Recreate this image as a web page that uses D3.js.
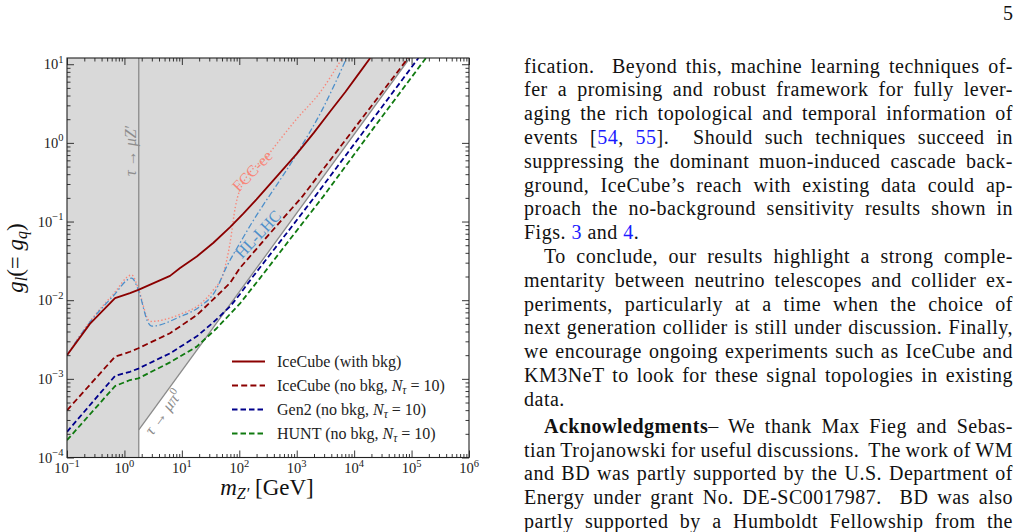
<!DOCTYPE html>
<html>
<head>
<meta charset="utf-8">
<script src="https://cdn.jsdelivr.net/npm/d3@7"></script>
<style>
  body { margin: 0; background: #fff; }
  svg text { font-family: "Liberation Serif", "Times New Roman", serif; }
</style>
</head>
<body>
<script>
// ---- data (m in GeV, coupling g) ----
const X_EXPS = [-1, 0, 1, 2, 3, 4, 5, 6];
const Y_EXPS = [-4, -3, -2, -1, 0, 1];
const M_TAU = 1.777;
const piBoundM = [1.777, 9.3e4];
const piBoundG = [2.25e-4, 12];

const iceBkgM = [0.1, 0.25, 0.686, 1.25, 1.746, 6.22, 9.31, 18.2, 35.5, 69.2, 117.5, 199.5, 446.7, 1000, 1995, 3819, 7079, 12590, 19060];
const iceBkgG = [2.0e-3, 5.0e-3, 0.0106, 0.0123, 0.0135, 0.0204, 0.0257, 0.0359, 0.0537, 0.0851, 0.126, 0.191, 0.372, 0.724, 1.35, 2.51, 4.47, 7.94, 12.0];

const iceNoBkgM = [0.1, 0.686, 1.25, 1.746, 6.22, 18.2, 35.5, 69.2, 102.8, 316, 1259, 3548, 10470, 87100];
const iceNoBkgG = [3.98e-4, 1.91e-3, 2.21e-3, 2.45e-3, 3.80e-3, 6.46e-3, 0.0103, 0.0166, 0.0257, 0.0661, 0.209, 0.562, 1.585, 12.0];

const gen2M = [0.1, 0.686, 1.25, 1.746, 6.22, 18.2, 35.5, 69.2, 103.3, 165, 589, 2089, 15850, 131800];
const gen2G = [2.12e-4, 1.09e-3, 1.23e-3, 1.35e-3, 2.11e-3, 3.47e-3, 5.25e-3, 8.32e-3, 0.0120, 0.0191, 0.0631, 0.209, 1.51, 12.0];

const huntM = [0.1, 0.686, 1.25, 1.746, 6.22, 18.2, 40.5, 103.3, 230, 813, 2911, 22390, 177800];
const huntG = [1.66e-4, 8.09e-4, 9.66e-4, 1.014e-3, 1.62e-3, 2.57e-3, 4.40e-3, 9.12e-3, 0.0191, 0.0631, 0.209, 1.585, 12.0];

const hlM = [0.1, 0.251, 0.631, 1.34, 1.746, 2.61, 2.99, 9.31, 20.7, 37.8, 60.5, 103.3, 154.2, 1000, 2818, 7400];
const hlG = [2.0e-3, 5.25e-3, 0.0112, 0.0191, 0.0135, 5.13e-3, 4.68e-3, 6.17e-3, 8.32e-3, 0.0129, 0.0269, 0.0537, 0.0883, 0.724, 2.69, 12.0];

const fccM = [0.1, 0.251, 0.631, 1.34, 1.746, 2.61, 2.88, 9.31, 20.7, 35.4, 52.8, 69.2, 85.1, 100, 344, 1000, 2570, 6310];
const fccG = [2.0e-3, 5.37e-3, 0.01175, 0.0209, 0.0141, 5.62e-3, 5.37e-3, 6.61e-3, 8.91e-3, 0.0135, 0.0221, 0.0537, 0.151, 0.240, 0.759, 2.02, 4.42, 12.3];

const legendNames = ["IceCube (with bkg)", "IceCube (no bkg, ", "Gen2 (no bkg, ", "HUNT (no bkg, "];

const bodyLines = [
  "fication.  Beyond this, machine learning techniques of-",
  "fer a promising and robust framework for fully lever-",
  "aging the rich topological and temporal information of",
  "events [{54}, {55}].  Should such techniques succeed in",
  "suppressing the dominant muon-induced cascade back-",
  "ground, IceCube’s reach with existing data could ap-",
  "proach the no-background sensitivity results shown in",
  "Figs. {3} and {4}.",
  "To conclude, our results highlight a strong comple-",
  "mentarity between neutrino telescopes and collider ex-",
  "periments, particularly at a time when the choice of",
  "next generation collider is still under discussion. Finally,",
  "we encourage ongoing experiments such as IceCube and",
  "KM3NeT to look for these signal topologies in existing",
  "data.",
  "**Acknowledgments**– We thank Max Fieg and Sebas-",
  "tian Trojanowski for useful discussions.  The work of WM",
  "and BD was partly supported by the U.S. Department of",
  "Energy under grant No. DE-SC0017987.  BD was also",
  "partly supported by a Humboldt Fellowship from the"
];
const paraStarts = [8, 15];   // indented lines
const paraEnds = [7, 14];     // not justified

// ---- layout ----
const W = 1021, H = 532;
const P = {left: 67, right: 469, top: 58, bottom: 457.5};

const svg = d3.select('body').append('svg')
    .attr('width', W).attr('height', H);

const x = d3.scaleLog().domain([0.1, 1e6]).range([P.left, P.right]);
const y = d3.scaleLog().domain([1e-4, 12]).range([P.bottom, P.top]);

svg.append('clipPath').attr('id', 'clip').append('rect')
    .attr('x', P.left).attr('y', P.top)
    .attr('width', P.right - P.left).attr('height', P.bottom - P.top);

const plot = svg.append('g').attr('clip-path', 'url(#clip)');

// excluded region
const shade = [[0.1, 1e-4], [M_TAU, 1e-4], [piBoundM[0], piBoundG[0]],
               [piBoundM[1], piBoundG[1]], [1e6, 12], [0.1, 12]];
plot.append('path')
    .attr('d', d3.line().x(d => x(d[0])).y(d => y(d[1]))(shade) + 'Z')
    .attr('fill', '#d9d9d9');

plot.append('line')
    .attr('x1', x(M_TAU)).attr('x2', x(M_TAU))
    .attr('y1', y(1e-4)).attr('y2', y(12))
    .attr('stroke', '#8a8a8a').attr('stroke-width', 1.3);

plot.append('line')
    .attr('x1', x(piBoundM[0])).attr('y1', y(piBoundG[0]))
    .attr('x2', x(piBoundM[1])).attr('y2', y(piBoundG[1]))
    .attr('stroke', '#8a8a8a').attr('stroke-width', 1.3);

const smooth = d3.line().x(d => x(d[0])).y(d => y(d[1])).curve(d3.curveMonotoneX);
const straight = d3.line().x(d => x(d[0])).y(d => y(d[1]));

const series = [
  {m: fccM, g: fccG, color: '#f7877a', w: 1.4, dash: '1.4,2.2', gen: smooth},
  {m: hlM, g: hlG, color: '#4d8fca', w: 1.3, dash: '6,2.5,1.5,2.5', gen: smooth},
  {m: huntM, g: huntG, color: '#107a10', w: 1.8, dash: '5.5,3', gen: straight},
  {m: gen2M, g: gen2G, color: '#00008b', w: 1.8, dash: '5.5,3', gen: straight},
  {m: iceNoBkgM, g: iceNoBkgG, color: '#8b0000', w: 1.8, dash: '6,3.2', gen: straight},
  {m: iceBkgM, g: iceBkgG, color: '#8b0000', w: 1.8, dash: null, gen: straight}
];

series.forEach(s => {
  plot.append('path')
      .attr('d', s.gen(d3.zip(s.m, s.g)))
      .attr('fill', 'none')
      .attr('stroke', s.color)
      .attr('stroke-width', s.w)
      .attr('stroke-linejoin', 'round')
      .attr('stroke-dasharray', s.dash);
});

// in-plot labels
const lab = (txt, cx, cy, rot, color, size) => {
  const t = svg.append('text')
      .attr('transform', `translate(${cx},${cy}) rotate(${rot})`)
      .attr('text-anchor', 'middle').attr('dy', '0.35em')
      .attr('fill', color).attr('font-size', size);
  txt.forEach(p => {
    const ts = t.append('tspan').text(p[0]);
    if (p[1]) ts.attr('font-style', 'italic');
    if (p[2]) ts.attr('font-size', p[2]).attr('dy', p[3]);
  });
};
lab([['τ', 1], [' → '], ['μZ′', 1]], 130, 151, -90, '#8c8c8c', 16);
lab([['τ', 1], [' → '], ['μπ', 1], ['0', 0, 11, -6]], 163, 412, -54, '#8c8c8c', 16);
lab([['FCC-ee']], 252, 171, -46, '#f7877a', 16);
lab([['HL-LHC']], 258, 234, -47, '#4d8fca', 16);

// axes
const minor = [];
X_EXPS.slice(0, -1).forEach(e => d3.range(2, 10).forEach(k => minor.push(k * Math.pow(10, e))));
const minorY = [];
Y_EXPS.forEach(e => d3.range(2, 10).forEach(k => {
  const v = k * Math.pow(10, e); if (v < 12) minorY.push(v);
}));
const xMajor = X_EXPS.map(e => Math.pow(10, e));
const yMajor = Y_EXPS.map(e => Math.pow(10, e));

const drawAxis = (gen, vals, size, tr) => {
  svg.append('g').attr('transform', tr)
      .call(gen.tickValues(vals).tickSize(size).tickFormat(() => ''))
      .call(a => a.select('.domain').remove())
      .call(a => a.selectAll('line').attr('stroke', '#222').attr('stroke-width', 0.9));
};
drawAxis(d3.axisBottom(x), xMajor, -7, `translate(0,${P.bottom})`);
drawAxis(d3.axisBottom(x), minor, -3.5, `translate(0,${P.bottom})`);
drawAxis(d3.axisTop(x), xMajor, -7, `translate(0,${P.top})`);
drawAxis(d3.axisTop(x), minor, -3.5, `translate(0,${P.top})`);
drawAxis(d3.axisLeft(y), yMajor, -7, `translate(${P.left},0)`);
drawAxis(d3.axisLeft(y), minorY, -3.5, `translate(${P.left},0)`);
drawAxis(d3.axisRight(y), yMajor, -7, `translate(${P.right},0)`);
drawAxis(d3.axisRight(y), minorY, -3.5, `translate(${P.right},0)`);

svg.append('rect')
    .attr('x', P.left).attr('y', P.top)
    .attr('width', P.right - P.left).attr('height', P.bottom - P.top)
    .attr('fill', 'none').attr('stroke', '#222').attr('stroke-width', 1.1);

const expLabel = (e, px, py, anchor) => {
  const t = svg.append('text').attr('x', px).attr('y', py)
      .attr('text-anchor', anchor).attr('font-size', 14.5).attr('fill', '#222');
  t.append('tspan').text('10');
  t.append('tspan').attr('font-size', 10.5).attr('dy', -6.5)
      .text(e < 0 ? '−' + (-e) : String(e));
};
X_EXPS.forEach(e => expLabel(e, x(Math.pow(10, e)), 473, 'middle'));
Y_EXPS.forEach(e => expLabel(e, 63.5, y(Math.pow(10, e)) + 5, 'end'));

// axis titles
const xt = svg.append('text').attr('x', 267).attr('y', 495)
    .attr('text-anchor', 'middle').attr('font-size', 23).attr('fill', '#111');
xt.append('tspan').attr('font-style', 'italic').text('m');
xt.append('tspan').attr('font-style', 'italic').attr('font-size', 16).attr('dy', 4).text('Z′');
xt.append('tspan').attr('dy', -4).text(' [GeV]');

const yt = svg.append('text').attr('transform', 'translate(23,258) rotate(-90)')
    .attr('text-anchor', 'middle').attr('font-size', 23).attr('fill', '#111');
yt.append('tspan').attr('font-style', 'italic').text('g');
yt.append('tspan').attr('font-style', 'italic').attr('font-size', 16).attr('dy', 4).text('l');
yt.append('tspan').attr('dy', -4).text('(= ');
yt.append('tspan').attr('font-style', 'italic').text('g');
yt.append('tspan').attr('font-style', 'italic').attr('font-size', 16).attr('dy', 4).text('q');
yt.append('tspan').attr('dy', -4).text(')');

// legend
const legendStyle = [series[5], series[4], series[3], series[2]];
legendNames.forEach((name, i) => {
  const cy = 361.5 + i * 24;
  const s = legendStyle[i];
  svg.append('line').attr('x1', 232).attr('x2', 265).attr('y1', cy).attr('y2', cy)
      .attr('stroke', s.color).attr('stroke-width', s.w).attr('stroke-dasharray', s.dash);
  const t = svg.append('text').attr('x', 277).attr('y', cy + 5)
      .attr('font-size', 16).attr('fill', '#222');
  t.append('tspan').text(name);
  if (i > 0) {
    t.append('tspan').attr('font-style', 'italic').text('N');
    t.append('tspan').attr('font-style', 'italic').attr('font-size', 11.5).attr('dy', 3).text('τ');
    t.append('tspan').attr('dy', -3).text(' = 10)');
  }
});

// page number
svg.append('text').attr('x', 1013).attr('y', 20).attr('text-anchor', 'end')
    .attr('font-size', 20).attr('fill', '#111').text('5');

// body text column
const COL_L = 524, COL_R = 1013, INDENT = 20;
bodyLines.forEach((ln, i) => {
  const base = 72.5 + i * 23.8 + (i >= 15 ? 3.2 : 0);
  const x0 = COL_L + (paraStarts.includes(i) ? INDENT : 0);
  const t = svg.append('text').attr('x', x0).attr('y', base)
      .attr('font-size', 20).attr('fill', '#111')
      .attr('xml:space', 'preserve').style('white-space', 'pre')
      .attr('letter-spacing', 0.5);
  ln.split(/(\{[^}]*\}|\*\*[^*]*\*\*)/).filter(p => p.length).forEach(p => {
    const ts = t.append('tspan');
    if (p.startsWith('{')) ts.attr('fill', '#1a1aff').text(p.slice(1, -1));
    else if (p.startsWith('**')) ts.attr('font-weight', 'bold').text(p.slice(2, -2));
    else ts.text(p);
  });
  if (!paraEnds.includes(i)) {
    const target = COL_R - x0;
    const spaces = (ln.match(/ /g) || []).length;
    const nat = t.node().getComputedTextLength();
    t.attr('word-spacing', (target - nat) / spaces);
    const got = t.node().getComputedTextLength();
    if (Math.abs(got - target) > 0.5 && got !== nat) {
      const ws = (target - nat) / spaces * (target - nat) / (got - nat);
      t.attr('word-spacing', ws);
    }
  }
});
</script>
</body>
</html>
